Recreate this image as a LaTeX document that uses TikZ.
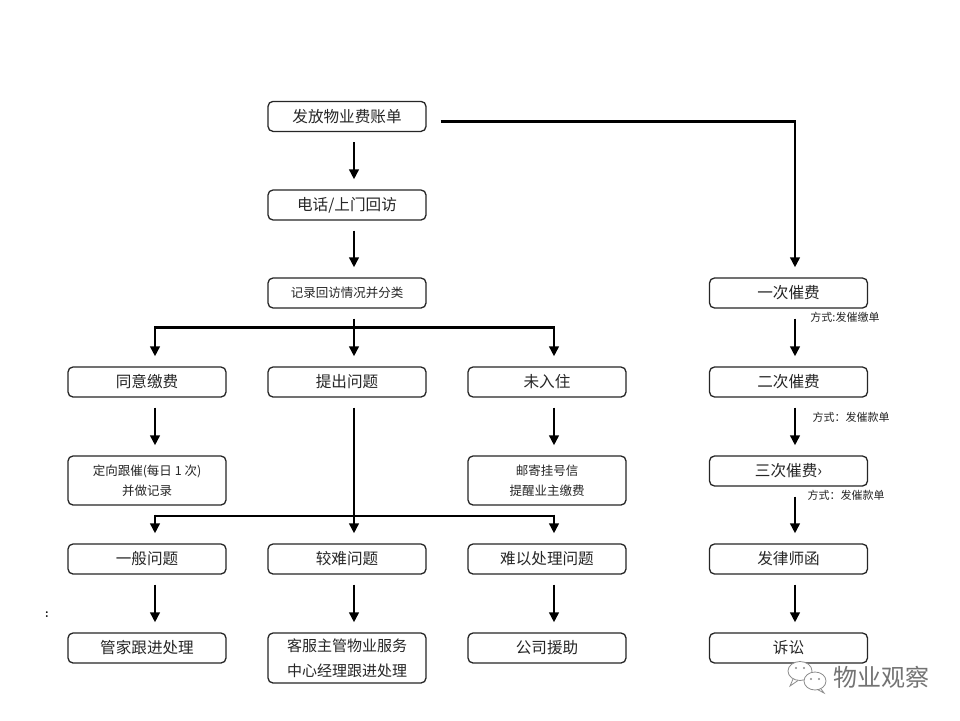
\documentclass[tikz,border=0pt]{standalone}
\usepackage{fontspec}
\newfontfamily\cjk{Noto Sans CJK SC}
\usetikzlibrary{arrows.meta}
\begin{document}
\begin{tikzpicture}[x=1pt,y=-1pt,
  box/.style={draw=black!85,line width=1.3pt,rounded corners=5pt,minimum width=158pt,minimum height=30pt,inner sep=0pt,font=\cjk\fontsize{15.6}{15.6}\selectfont,text=black!85,align=center},
  tallbox/.style={box,minimum height=49pt},
  flow/.style={line width=2.7pt,-{Triangle[width=9.5pt,length=10pt]}},
  bar/.style={line width=2.6pt},
  note/.style={font=\cjk\fontsize{11}{11}\selectfont,text=black!85,inner sep=0pt}]
\path[use as bounding box,fill=white] (0,0) rectangle (960,720);
% middle column
\node[box] (b1) at (347,116.4) {发放物业费账单};
\node[box] (b2) at (347,205) {电话/上门回访};
\node[box,font=\cjk\fontsize{12.5}{12.5}\selectfont] (b3) at (347,293) {记录回访情况并分类};
% row 4
\node[box] (l4) at (147,382) {同意缴费};
\node[box] (m4) at (347,382) {提出问题};
\node[box] (r4) at (547,382) {未入住};
% row 5
\node[tallbox,font=\cjk\fontsize{12.5}{20}\selectfont] (l5) at (147,480.5) {定向跟催(每日 1 次)\\并做记录};
\node[tallbox,font=\cjk\fontsize{12.5}{20}\selectfont] (r5) at (547,480.5) {邮寄挂号信\\提醒业主缴费};
% row 6
\node[box] (l6) at (147,559) {一般问题};
\node[box] (m6) at (347,559) {较难问题};
\node[box] (r6) at (547,559) {难以处理问题};
% row 7
\node[box] (l7) at (147,648) {管家跟进处理};
\node[box,minimum height=50pt,font=\cjk\fontsize{15}{25}\selectfont] (m7) at (347,658) {客服主管物业服务\\中心经理跟进处理};
\node[box] (r7) at (547,648) {公司援助};
% far right column
\node[box] (c1) at (788.5,293) {一次催费};
\node[box] (c2) at (788.5,382) {二次催费};
\node[box] (c3) at (788.5,471) {三次催费›};
\node[box] (c4) at (788.5,559) {发律师函};
\node[box] (c5) at (788.5,648) {诉讼};
% notes
\node[note] (n1) at (845,317) {方式:发催缴单};
\node[note] (n2) at (851,417) {方式：发催款单};
\node[note] (n3) at (846,495) {方式：发催款单};
% main arrows
\draw[flow] ([xshift=7pt,yshift=-10pt]b1.south) -- ([xshift=7pt,yshift=10pt]b2.north);
\draw[flow] ([xshift=7pt,yshift=-10pt]b2.south) -- ([xshift=7pt,yshift=10pt]b3.north);
% branch 1
\coordinate (t1) at ([xshift=7pt,yshift=-10pt]b3.south);
\draw[flow] (t1) -- ([xshift=7pt,yshift=10pt]m4.north);
\draw[bar] (155,327.5) -- (554,327.5);
\draw[flow] (155,326.2) -- ([xshift=8pt,yshift=10pt]l4.north);
\draw[flow] (554,326.2) -- ([xshift=7pt,yshift=10pt]r4.north);
\draw[flow] ([xshift=8pt,yshift=-10pt]l4.south) -- ([xshift=8pt,yshift=10pt]l5.north);
\draw[flow] ([xshift=7pt,yshift=-10pt]r4.south) -- ([xshift=7pt,yshift=10pt]r5.north);
% branch 2
\draw[flow] ([xshift=7pt,yshift=-10pt]m4.south) -- ([xshift=7pt,yshift=10pt]m6.north);
\draw[bar] (155,516) -- (554,516);
\draw[flow] (155,514.7) -- ([xshift=8pt,yshift=10pt]l6.north);
\draw[flow] (554,514.7) -- ([xshift=7pt,yshift=10pt]r6.north);
\draw[flow] ([xshift=8pt,yshift=-10pt]l6.south) -- ([xshift=8pt,yshift=10pt]l7.north);
\draw[flow] ([xshift=7pt,yshift=-10pt]m6.south) -- ([xshift=7pt,yshift=10pt]m7.north);
\draw[flow] ([xshift=7pt,yshift=-10pt]r6.south) -- ([xshift=7pt,yshift=10pt]r7.north);
% right chain
\draw[line width=2.6pt,-{Triangle[width=9.5pt,length=10pt]}] ([xshift=14pt,yshift=-5.3pt]b1.east) -| ([xshift=6.5pt,yshift=10pt]c1.north);
\draw[flow] ([xshift=6.5pt,yshift=-10pt]c1.south) -- ([xshift=6.5pt,yshift=10pt]c2.north);
\draw[flow] ([xshift=6.5pt,yshift=-10pt]c2.south) -- ([xshift=6.5pt,yshift=10pt]c3.north);
\draw[flow] ([xshift=6.5pt,yshift=-10pt]c3.south) -- ([xshift=6.5pt,yshift=10pt]c4.north);
\draw[flow] ([xshift=6.5pt,yshift=-10pt]c4.south) -- ([xshift=6.5pt,yshift=10pt]c5.north);
% stray colon
\node[font=\bfseries\fontsize{13}{13}\selectfont,inner sep=0pt] (colon) at (47,615) {:};
% watermark
\begin{scope}[draw=black!45,line width=0.8pt]
  \draw[fill=white] (800,671) ellipse [x radius=12,y radius=9.5];
  \draw (793,679) -- (790,686) -- (798,680.5);
  \fill[black!45] (796,668) circle (1.2) (804,668) circle (1.2);
  \draw[fill=white] (815,681) ellipse [x radius=11,y radius=9];
  \draw (821,689) -- (824,693) -- (818,689.8);
  \fill[black!45] (811,679) circle (1.1) (819,679) circle (1.1);
\end{scope}
\node[font=\cjk\fontsize{24}{24}\selectfont,text=black!55,inner sep=0pt] (wm) at (881,677) {物业观察};
\end{tikzpicture}
\end{document}
